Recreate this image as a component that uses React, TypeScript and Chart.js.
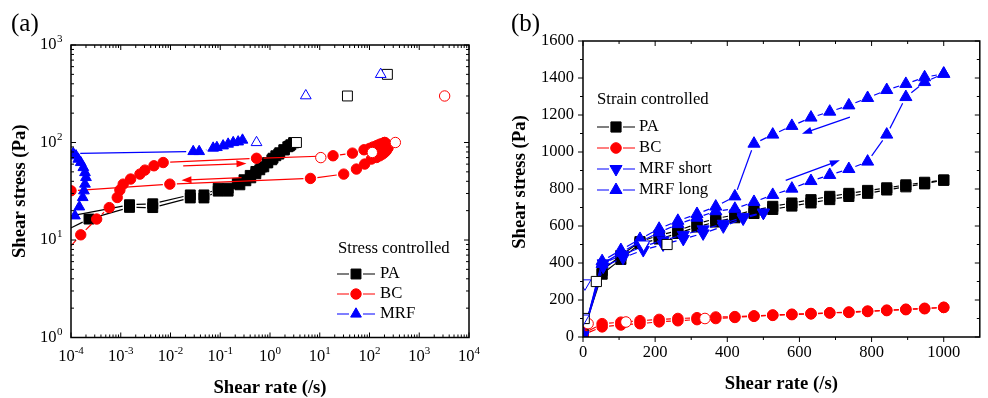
import React, { useEffect, useRef } from 'react';
import { Chart, registerables } from 'chart.js';

Chart.register(...registerables);

const SERIF = "'Liberation Serif', 'Times New Roman', Times, serif";
const BLACK = '#000000';
const RED = '#ff0000';
const BLUE = '#0000ff';
const WHITE = '#ffffff';

// ================= Panel (a): stress controlled, log-log =================
const aXTickValues = [1e-4, 1e-3, 1e-2, 1e-1, 1, 10, 100, 1000, 10000];
const aXTickExps = ['-4', '-3', '-2', '-1', '0', '1', '2', '3', '4'];
const aYTickValues = [1, 10, 100, 1000];
const aYTickExps = ['0', '1', '2', '3'];
const logMinorMult = [2, 3, 4, 5, 6, 7, 8, 9];

const aPaUpRate = [5e-5, 2.3e-4, 1.5e-3, 4.4e-3, 0.025, 0.047, 0.091, 0.144, 0.248, 0.327, 0.411, 0.519, 0.624, 0.751, 0.904, 1.09, 1.31, 1.57, 1.89, 2.28, 2.62, 3.0];
const aPaUpStress = [11.2, 16.4, 21.6, 21.5, 27, 27, 31.7, 31.7, 36.8, 40.5, 43.4, 47.8, 52.5, 56.3, 61.9, 66.5, 73.1, 78.5, 84.2, 90.4, 94.8, 99.5];
const aPaDownRate = [3.0, 2.45, 1.95, 1.5, 1.15, 0.88, 0.68, 0.52, 0.4, 0.3, 0.22, 0.144, 0.091, 0.047, 0.025, 4.4e-3, 1.5e-3, 5e-5];
const aPaDownStress = [99.5, 92, 84, 76, 69, 62, 56, 50.5, 46, 41.5, 38, 34, 34, 29, 29, 23.5, 23, 16.5];

const aBcUpRate = [5e-5, 1.57e-4, 3.28e-4, 5.87e-4, 8.5e-4, 9.6e-4, 1.12e-3, 1.58e-3, 2.43e-3, 3.06e-3, 4.65e-3, 7.13e-3, 0.536, 18.5, 45.4, 77.6, 100, 118, 140, 160, 182, 202];
const aBcUpStress = [5.8, 11.3, 16.4, 21.5, 27.3, 32.5, 37.4, 42.2, 47.4, 52.1, 57.7, 62.3, 68.9, 73.1, 77.8, 84.2, 87, 90, 93, 96, 98, 100];
const aBcDownRate = [202, 222, 236, 218, 200, 182, 160, 138, 109, 80, 54.6, 30.3, 6.5, 9.7e-3, 1e-4, 5e-5];
const aBcDownStress = [100, 96, 88, 82.5, 79, 76, 73, 70.2, 67.6, 60.1, 53.4, 47.4, 42.8, 37.4, 32, 31.6];

const aMrfRate = [1.2e-4, 1.47e-4, 1.72e-4, 1.82e-4, 1.91e-4, 2.0e-4, 1.91e-4, 1.77e-4, 1.57e-4, 1.4e-4, 1.26e-4, 1.11e-4, 0.0286, 0.0377, 0.072, 0.0855, 0.114, 0.144, 0.182, 0.229, 0.28];
const aMrfStress = [17.7, 21.9, 27.3, 32, 37.5, 43.8, 49.2, 55.4, 62.4, 67.6, 73.1, 77.1, 80.9, 80.9, 87.7, 89, 92.5, 96.4, 100, 101.6, 106];

const aPaOpenRate = [3.4, 36, 229];
const aPaOpenStress = [100, 300, 500];
const aBcOpenRate = [10.5, 114, 331, 3240];
const aBcOpenStress = [70, 79, 100, 300];
const aMrfOpenRate = [0.536, 5.24, 168];
const aMrfOpenStress = [100, 302, 500];

const aArrowFrom = [[0.018, 57.7], [0.268, 43.7]];
const aArrowTo = [[0.337, 60.9], [0.0166, 41.1]];
const aLegendLabels = ['PA', 'BC', 'MRF'];

// ================= Panel (b): strain controlled, linear =================
const bXTicks = [0, 200, 400, 600, 800, 1000];
const bXMinor = [100, 300, 500, 700, 900];
const bYTicks = [0, 200, 400, 600, 800, 1000, 1200, 1400, 1600];
const bYMinor = [100, 300, 500, 700, 900, 1100, 1300, 1500];

const bRate = [0, 53, 105, 158, 211, 263, 316, 368, 421, 474, 526, 579, 632, 684, 737, 789, 842, 895, 947, 1000];
const bPaUp = [25, 340, 420, 505, 530, 560, 595, 622, 645, 668, 690, 708, 725, 743, 760, 777, 795, 812, 828, 848];
const bPaDown = [25, 360, 440, 515, 550, 575, 612, 640, 660, 685, 706, 724, 742, 760, 776, 792, 806, 822, 836, 848];
const bBcUp = [12, 55, 65, 72, 82, 88, 94, 100, 106, 112, 117, 121, 125, 130, 133, 138, 143, 148, 153, 160];
const bBcDown = [18, 72, 80, 88, 95, 100, 104, 108, 110, 114, 119, 123, 127, 131, 135, 140, 145, 150, 155, 160];
const bMrfLongUp = [8, 395, 455, 515, 565, 610, 645, 680, 693, 730, 768, 802, 843, 876, 908, 948, 1094, 1297, 1378, 1423];
const bMrfLongDown = [5, 410, 470, 530, 585, 628, 665, 705, 760, 1045, 1094, 1141, 1186, 1218, 1252, 1292, 1335, 1368, 1404, 1423];
const bRateShort = [0, 56, 111, 167, 222, 278, 333, 389, 444, 500];
const bMrfShortUp = [5, 380, 428, 470, 500, 530, 560, 598, 640, 672];
const bMrfShortDown = [10, 398, 445, 490, 522, 552, 582, 612, 648, 672];

const bPaOpenRate = [3.4, 37, 233];
const bPaOpenStress = [100, 300, 500];
const bBcOpenRate = [14, 119, 338];
const bBcOpenStress = [72, 81, 100];
const bMrfOpenRate = [0.5, 5.2, 168];
const bMrfOpenStress = [100, 290, 500];

const bArrowFrom = [[740, 1189], [562, 847]];
const bArrowTo = [[607, 1099], [712, 955]];
const bLegendLabels = ['PA', 'BC', 'MRF short', 'MRF long'];

// ================= helpers =================
const zip = (xs: number[], ys: number[]) => xs.map((x, i) => ({ x, y: ys[i] }));

const GAP = 7;
const segLen = (c: any) => Math.hypot(c.p1.x - c.p0.x, c.p1.y - c.p0.y);
const gapSegment = {
  borderDash: (c: any) => {
    const L = segLen(c);
    return L > 2 * GAP ? [L - 2 * GAP, 2 * GAP] : [0, L + 1];
  },
  borderDashOffset: (c: any) => {
    const L = segLen(c);
    return L > 2 * GAP ? L - GAP : 0;
  },
};

function series(xs: number[], ys: number[], color: string, style: string, radius: number, opts: any = {}) {
  const line = opts.line !== false;
  return {
    data: zip(xs, ys),
    showLine: line,
    borderColor: color,
    backgroundColor: color,
    borderWidth: 1.2,
    pointStyle: style,
    pointRadius: radius,
    pointHoverRadius: radius,
    pointRotation: opts.rotation || 0,
    pointBackgroundColor: opts.open ? WHITE : color,
    pointBorderColor: color,
    pointBorderWidth: 1,
    segment: line ? gapSegment : undefined,
    fill: false,
    tension: 0,
  };
}

function drawMarker(ctx: CanvasRenderingContext2D, style: string, x: number, y: number, r: number, color: string, rot = 0) {
  ctx.beginPath();
  if (style === 'rect') {
    const h = r * Math.SQRT1_2;
    ctx.rect(x - h, y - h, 2 * h, 2 * h);
  } else if (style === 'circle') {
    ctx.arc(x, y, r, 0, Math.PI * 2);
  } else {
    const s = rot === 180 ? -1 : 1;
    ctx.moveTo(x, y - s * r);
    ctx.lineTo(x + r * 0.866, y + s * r * 0.5);
    ctx.lineTo(x - r * 0.866, y + s * r * 0.5);
    ctx.closePath();
  }
  ctx.fillStyle = color;
  ctx.strokeStyle = color;
  ctx.lineWidth = 1;
  ctx.fill();
  ctx.stroke();
}

function drawArrow(ctx: CanvasRenderingContext2D, x0: number, y0: number, x1: number, y1: number, color: string) {
  const a = Math.atan2(y1 - y0, x1 - x0);
  const L = 10, W = 3.5;
  const c = Math.cos(a), s = Math.sin(a);
  ctx.strokeStyle = color;
  ctx.fillStyle = color;
  ctx.lineWidth = 1.3;
  ctx.beginPath();
  ctx.moveTo(x0, y0);
  ctx.lineTo(x1 - L * 0.8 * c, y1 - L * 0.8 * s);
  ctx.stroke();
  ctx.beginPath();
  ctx.moveTo(x1, y1);
  ctx.lineTo(x1 - L * c + W * s, y1 - L * s - W * c);
  ctx.lineTo(x1 - L * c - W * s, y1 - L * s + W * c);
  ctx.closePath();
  ctx.fill();
}

function drawFrameTicks(ctx: CanvasRenderingContext2D, area: any, xs: any, ys: any,
  xMaj: number[], xMin: number[], yMaj: number[], yMin: number[], outLB: boolean) {
  const MAJ = 5, MIN = 3;
  ctx.strokeStyle = BLACK;
  ctx.lineWidth = 1.5;
  ctx.strokeRect(area.left, area.top, area.right - area.left, area.bottom - area.top);
  ctx.lineWidth = 1;
  ctx.beginPath();
  const sB = outLB ? 1 : -1;
  const sL = outLB ? -1 : 1;
  const addX = (v: number, len: number) => {
    const p = xs.getPixelForValue(v);
    if (p < area.left - 0.5 || p > area.right + 0.5) return;
    ctx.moveTo(p, area.bottom); ctx.lineTo(p, area.bottom + sB * len);
    ctx.moveTo(p, area.top); ctx.lineTo(p, area.top + len);
  };
  const addY = (v: number, len: number) => {
    const p = ys.getPixelForValue(v);
    if (p < area.top - 0.5 || p > area.bottom + 0.5) return;
    ctx.moveTo(area.left, p); ctx.lineTo(area.left + sL * len, p);
    ctx.moveTo(area.right, p); ctx.lineTo(area.right - len, p);
  };
  xMaj.forEach((v) => addX(v, MAJ));
  xMin.forEach((v) => addX(v, MIN));
  yMaj.forEach((v) => addY(v, MAJ));
  yMin.forEach((v) => addY(v, MIN));
  ctx.stroke();
}

function drawLegend(ctx: CanvasRenderingContext2D, title: string, tx: number, ty: number,
  items: { label: string; color: string; style: string; r: number; rot?: number; y: number }[],
  x0: number, x1: number, textX: number) {
  ctx.fillStyle = BLACK;
  ctx.textBaseline = 'middle';
  ctx.textAlign = 'left';
  ctx.font = `16.7px ${SERIF}`;
  ctx.fillText(title, tx, ty);
  const xm = (x0 + x1) / 2;
  items.forEach((it) => {
    ctx.strokeStyle = it.color;
    ctx.lineWidth = 1.2;
    ctx.setLineDash([]);
    ctx.beginPath();
    ctx.moveTo(x0, it.y); ctx.lineTo(xm - GAP, it.y);
    ctx.moveTo(xm + GAP, it.y); ctx.lineTo(x1, it.y);
    ctx.stroke();
    drawMarker(ctx, it.style, xm, it.y, it.r, it.color, it.rot || 0);
    ctx.fillStyle = BLACK;
    ctx.font = `16.7px ${SERIF}`;
    ctx.fillText(it.label, textX, it.y);
  });
}

const TICK_FONT = 16.5;
const SUP_FONT = 11;
const TITLE_FONT = `bold 18.7px ${SERIF}`;

// sizes of markers
const A_SQ = 7, A_CI = 5.2, A_TR = 6.2;
const B_SQ = 7.2, B_CI = 5.3, B_TR = 7;

const panelAPlugin = {
  id: 'panelA',
  afterDatasetsDraw(chart: any) {
    const { ctx } = chart;
    const xs = chart.scales.x, ys = chart.scales.y;
    ctx.save();
    aArrowFrom.forEach((f, i) => {
      const t = aArrowTo[i];
      drawArrow(ctx, xs.getPixelForValue(f[0]), ys.getPixelForValue(f[1]), xs.getPixelForValue(t[0]), ys.getPixelForValue(t[1]), RED);
    });
    ctx.restore();
  },
  afterDraw(chart: any) {
    const { ctx, chartArea: area } = chart;
    const xs = chart.scales.x, ys = chart.scales.y;
    ctx.save();
    const xMinor: number[] = [];
    aXTickValues.slice(0, -1).forEach((d) => logMinorMult.forEach((m) => xMinor.push(d * m)));
    const yMinor: number[] = [];
    aYTickValues.slice(0, -1).forEach((d) => logMinorMult.forEach((m) => yMinor.push(d * m)));
    drawFrameTicks(ctx, area, xs, ys, aXTickValues, xMinor, aYTickValues, yMinor, false);

    // tick labels with superscript exponents
    ctx.fillStyle = BLACK;
    ctx.textBaseline = 'middle';
    aXTickValues.forEach((v, i) => {
      const px = xs.getPixelForValue(v);
      ctx.font = `${TICK_FONT}px ${SERIF}`;
      const w1 = ctx.measureText('10').width;
      ctx.font = `${SUP_FONT}px ${SERIF}`;
      const w2 = ctx.measureText(aXTickExps[i]).width;
      const x0 = px - (w1 + w2) / 2;
      ctx.textAlign = 'left';
      ctx.font = `${TICK_FONT}px ${SERIF}`;
      ctx.fillText('10', x0, area.bottom + 19);
      ctx.font = `${SUP_FONT}px ${SERIF}`;
      ctx.fillText(aXTickExps[i], x0 + w1, area.bottom + 14);
    });
    aYTickValues.forEach((v, i) => {
      const py = ys.getPixelForValue(v);
      ctx.textAlign = 'right';
      ctx.font = `${TICK_FONT}px ${SERIF}`;
      ctx.fillText('10', area.left - 14.5, py);
      ctx.textAlign = 'left';
      ctx.font = `${SUP_FONT}px ${SERIF}`;
      ctx.fillText(aYTickExps[i], area.left - 14, py - 5.5);
    });

    // axis titles
    ctx.font = TITLE_FONT;
    ctx.textAlign = 'center';
    ctx.fillText('Shear rate (/s)', (area.left + area.right) / 2, 388.5);
    ctx.save();
    ctx.translate(20, (area.top + area.bottom) / 2);
    ctx.rotate(-Math.PI / 2);
    ctx.fillText('Shear stress (Pa)', 0, 0);
    ctx.restore();

    // panel label
    ctx.font = `25px ${SERIF}`;
    ctx.textAlign = 'left';
    ctx.fillText('(a)', 11, 24);

    drawLegend(ctx, 'Stress controlled', 338, 249, [
      { label: aLegendLabels[0], color: BLACK, style: 'rect', r: A_SQ, y: 274 },
      { label: aLegendLabels[1], color: RED, style: 'circle', r: A_CI, y: 294 },
      { label: aLegendLabels[2], color: BLUE, style: 'triangle', r: A_TR, y: 314 },
    ], 337, 375, 380);
    ctx.restore();
  },
};

const panelBPlugin = {
  id: 'panelB',
  afterDatasetsDraw(chart: any) {
    const { ctx } = chart;
    const xs = chart.scales.x, ys = chart.scales.y;
    ctx.save();
    bArrowFrom.forEach((f, i) => {
      const t = bArrowTo[i];
      drawArrow(ctx, xs.getPixelForValue(f[0]), ys.getPixelForValue(f[1]), xs.getPixelForValue(t[0]), ys.getPixelForValue(t[1]), BLUE);
    });
    ctx.restore();
  },
  afterDraw(chart: any) {
    const { ctx, chartArea: area } = chart;
    const xs = chart.scales.x, ys = chart.scales.y;
    ctx.save();
    drawFrameTicks(ctx, area, xs, ys, bXTicks, bXMinor, bYTicks, bYMinor, true);
    ctx.fillStyle = BLACK;
    ctx.textBaseline = 'middle';
    ctx.font = TITLE_FONT;
    ctx.textAlign = 'center';
    ctx.fillText('Shear rate (/s)', (area.left + area.right) / 2, 384);
    ctx.save();
    ctx.translate(26, 182);
    ctx.rotate(-Math.PI / 2);
    ctx.fillText('Shear stress (Pa)', 0, 0);
    ctx.restore();
    ctx.font = `25px ${SERIF}`;
    ctx.textAlign = 'left';
    ctx.fillText('(b)', 17, 24);
    drawLegend(ctx, 'Strain controlled', 103, 100, [
      { label: bLegendLabels[0], color: BLACK, style: 'rect', r: B_SQ, y: 127 },
      { label: bLegendLabels[1], color: RED, style: 'circle', r: B_CI, y: 148 },
      { label: bLegendLabels[2], color: BLUE, style: 'triangle', r: B_TR, rot: 180, y: 169 },
      { label: bLegendLabels[3], color: BLUE, style: 'triangle', r: B_TR, y: 190 },
    ], 103, 141, 145);
    ctx.restore();
  },
};

function configA(): any {
  return {
    type: 'line',
    data: {
      datasets: [
        series(aMrfOpenRate, aMrfOpenStress, BLUE, 'triangle', A_TR, { open: true, line: false }),
        series(aPaOpenRate, aPaOpenStress, BLACK, 'rect', A_SQ, { open: true, line: false }),
        series(aBcOpenRate, aBcOpenStress, RED, 'circle', A_CI, { open: true, line: false }),
        series(aMrfRate, aMrfStress, BLUE, 'triangle', A_TR),
        series(aBcUpRate, aBcUpStress, RED, 'circle', A_CI),
        series(aBcDownRate, aBcDownStress, RED, 'circle', A_CI),
        series(aPaUpRate, aPaUpStress, BLACK, 'rect', A_SQ),
        series(aPaDownRate, aPaDownStress, BLACK, 'rect', A_SQ),
      ],
    },
    options: {
      animation: false,
      responsive: false,
      events: [],
      layout: { padding: { left: 71, top: 45, right: 25, bottom: 60.5 } },
      plugins: { legend: { display: false }, tooltip: { enabled: false } },
      scales: {
        x: { type: 'logarithmic', position: 'bottom', min: 1e-4, max: 1e4, display: false },
        y: { type: 'logarithmic', position: 'left', min: 1, max: 1000, display: false },
      },
    },
    plugins: [panelAPlugin],
  };
}

function configB(): any {
  const tickFont = { family: SERIF, size: TICK_FONT };
  return {
    type: 'line',
    data: {
      datasets: [
        series(bMrfOpenRate, bMrfOpenStress, BLUE, 'triangle', B_TR, { open: true, line: false, rotation: 180 }),
        series(bPaOpenRate, bPaOpenStress, BLACK, 'rect', B_SQ, { open: true, line: false }),
        series(bBcOpenRate, bBcOpenStress, RED, 'circle', B_CI, { open: true, line: false }),
        series(bRate, bMrfLongUp, BLUE, 'triangle', B_TR),
        series(bRate, bMrfLongDown, BLUE, 'triangle', B_TR),
        series(bRateShort, bMrfShortUp, BLUE, 'triangle', B_TR, { rotation: 180 }),
        series(bRateShort, bMrfShortDown, BLUE, 'triangle', B_TR, { rotation: 180 }),
        series(bRate, bBcUp, RED, 'circle', B_CI),
        series(bRate, bBcDown, RED, 'circle', B_CI),
        series(bRate, bPaUp, BLACK, 'rect', B_SQ),
        series(bRate, bPaDown, BLACK, 'rect', B_SQ),
      ],
    },
    options: {
      animation: false,
      responsive: false,
      events: [],
      layout: { padding: { left: 0, top: 41, right: 4, bottom: 0 } },
      plugins: { legend: { display: false }, tooltip: { enabled: false } },
      scales: {
        x: {
          type: 'linear', position: 'bottom', min: 0, max: 1100,
          afterBuildTicks: (s: any) => { s.ticks = bXTicks.map((v) => ({ value: v })); },
          afterFit: (s: any) => { s.height = 61; },
          grid: { display: false, drawTicks: false },
          border: { display: false },
          ticks: { autoSkip: false, maxRotation: 0, padding: 5.6, color: BLACK, font: tickFont, callback: (v: any) => String(v) },
        },
        y: {
          type: 'linear', position: 'left', min: 0, max: 1600,
          afterBuildTicks: (s: any) => { s.ticks = bYTicks.map((v) => ({ value: v })); },
          afterFit: (s: any) => { s.width = 89; },
          grid: { display: false, drawTicks: false },
          border: { display: false },
          ticks: { autoSkip: false, padding: 9, color: BLACK, font: tickFont, callback: (v: any) => String(v) },
        },
      },
    },
    plugins: [panelBPlugin],
  };
}

export default function App() {
  const refA = useRef<HTMLCanvasElement>(null);
  const refB = useRef<HTMLCanvasElement>(null);
  useEffect(() => {
    const ca = new Chart(refA.current as HTMLCanvasElement, configA());
    const cb = new Chart(refB.current as HTMLCanvasElement, configB());
    return () => {
      ca.destroy();
      cb.destroy();
    };
  }, []);
  return (
    <div style={{ position: 'fixed', left: 0, top: 0, width: 988, height: 398, background: WHITE }}>
      <canvas ref={refA} width={494} height={398} style={{ position: 'absolute', left: 0, top: 0, width: 494, height: 398 }} />
      <canvas ref={refB} width={494} height={398} style={{ position: 'absolute', left: 494, top: 0, width: 494, height: 398 }} />
    </div>
  );
}
